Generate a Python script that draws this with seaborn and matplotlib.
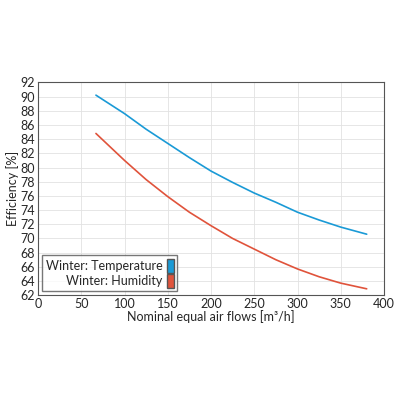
import matplotlib
matplotlib.use("Agg")
import matplotlib.pyplot as plt
import seaborn as sns
import pandas as pd
from matplotlib.patches import Patch

x_temp = [67, 100, 125, 150, 175, 200, 225, 250, 275, 300, 325, 350, 380]
y_temp = [90.2, 87.6, 85.4, 83.4, 81.4, 79.5, 77.9, 76.4, 75.1, 73.7, 72.6, 71.6, 70.6]
x_hum = [67, 100, 125, 150, 175, 200, 225, 250, 275, 300, 325, 350, 380]
y_hum = [84.8, 81.0, 78.3, 75.9, 73.7, 71.8, 70.0, 68.5, 67.0, 65.7, 64.6, 63.7, 62.9]
labels = ["Winter: Temperature", "Winter: Humidity"]
colors = ["#1a9ad6", "#e0533b"]

sns.set_style("whitegrid")
plt.rcParams['font.family'] = ['Lato', 'DejaVu Sans']

df = pd.concat([
    pd.DataFrame({"x": x_temp, "y": y_temp, "s": labels[0]}),
    pd.DataFrame({"x": x_hum, "y": y_hum, "s": labels[1]}),
])
fig = plt.figure(figsize=(4, 4), dpi=100)
ax = fig.add_axes([0.095, 0.262, 0.865, 0.532])
sns.lineplot(data=df, x="x", y="y", hue="s", palette=colors, ax=ax, legend=False, linewidth=1.2)
ax.set_xlim(0, 400)
ax.set_ylim(62, 92)
ax.set_xticks(range(0, 401, 50))
ax.set_yticks(range(62, 93, 2))
ax.tick_params(axis="x", labelsize=9, pad=2, length=0)
ax.tick_params(axis="y", labelsize=9, pad=2, length=0)
ax.set_xlabel("Nominal equal air flows [m³/h]", fontsize=9, labelpad=0)
ax.set_ylabel("Efficiency [%]", fontsize=9, labelpad=1)
for s in ax.spines.values():
    s.set_color("#555555"); s.set_linewidth(0.8)
ax.grid(color="#e2e2e2", linewidth=0.6)
handles = [Patch(facecolor=c, edgecolor="#555555") for c in colors]
leg = ax.legend(handles, labels, loc="lower left", markerfirst=False, fontsize=9,
                fancybox=False, edgecolor="#555555", handlelength=0.5, handleheight=1.3,
                handletextpad=0.4, borderaxespad=0.3, labelspacing=0.1, borderpad=0.3)
for t in leg.get_texts():
    t.set_ha("right")
fig.savefig("out.png", dpi=100)
